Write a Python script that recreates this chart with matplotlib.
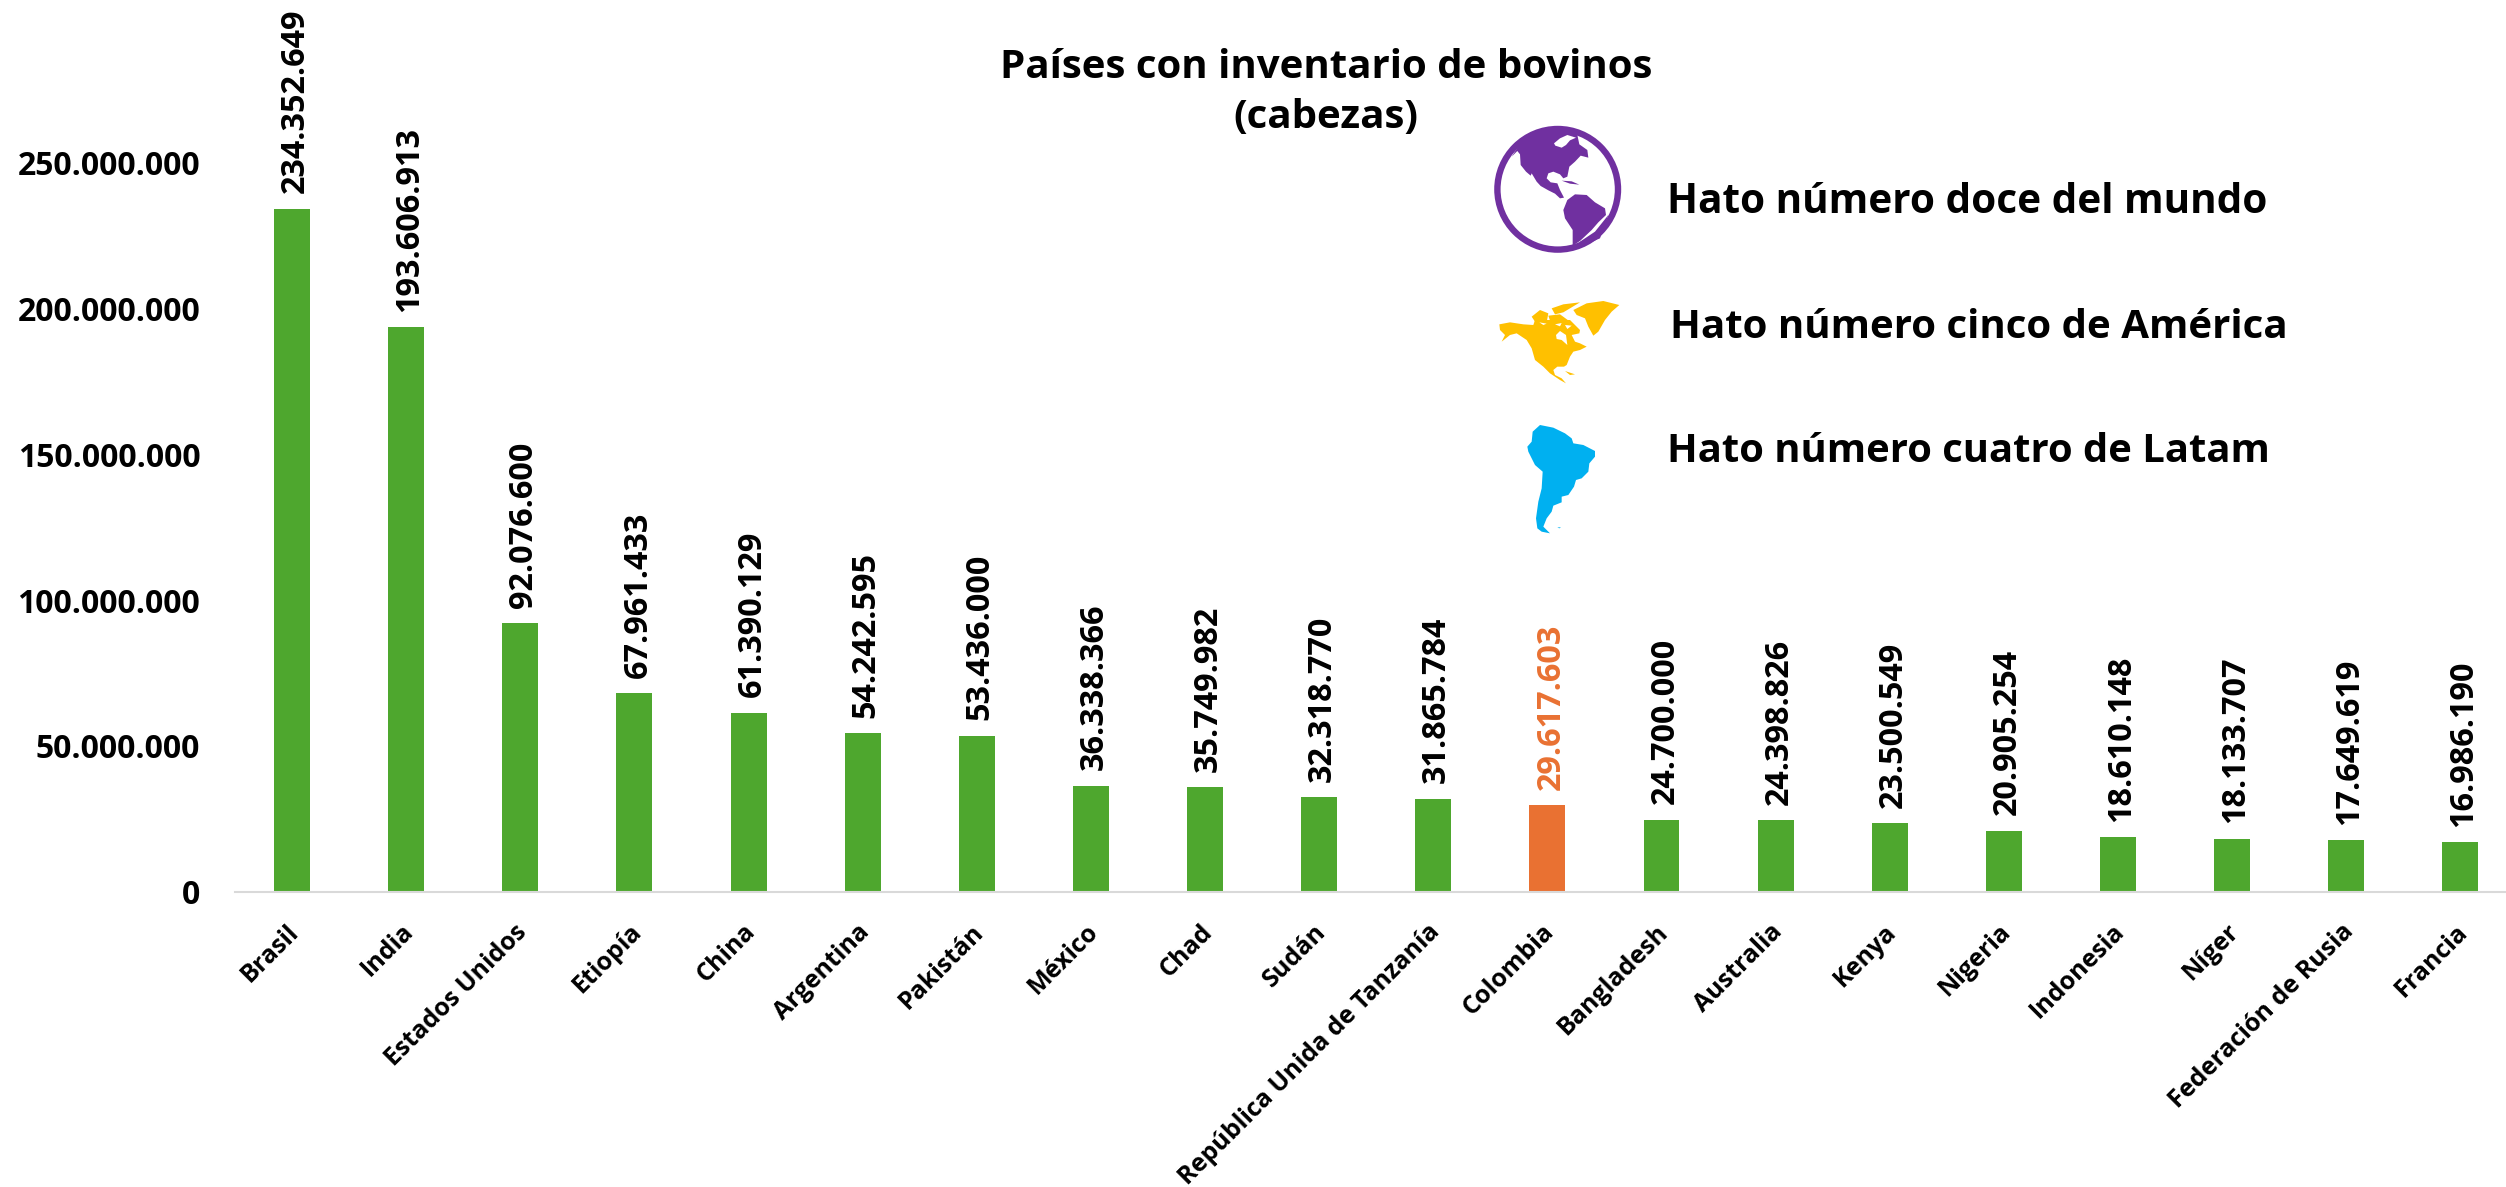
import matplotlib
matplotlib.use("Agg")
import matplotlib.pyplot as plt
from matplotlib.patches import Circle, Polygon
from matplotlib.transforms import ScaledTranslation

plt.rcParams['font.family'] = ['Open Sans', 'DejaVu Sans']
plt.rcParams['font.weight'] = 'bold'

paises = ["Brasil", "India", "Estados Unidos", "Etiopía", "China", "Argentina", "Pakistán",
          "México", "Chad", "Sudán", "República Unida de Tanzanía", "Colombia", "Bangladesh",
          "Australia", "Kenya", "Nigeria", "Indonesia", "Níger", "Federación de Rusia", "Francia"]
cabezas = [234352649, 193606913, 92076600, 67961433, 61390129, 54242595, 53436000,
           36338366, 35749982, 32318770, 31865784, 29617603, 24700000,
           24398826, 23500549, 20905254, 18610148, 18133707, 17649619, 16986190]
y_ticks = [0, 50000000, 100000000, 150000000, 200000000, 250000000]

VERDE = "#4EA72E"
NARANJA = "#E97132"
W, H = 2506, 1187


def miles(v):
    return f"{v:,}".replace(",", ".")


def zoom_pts(pts, x0, y0):
    # traced on 3x crops, back to image pixels
    return [(x0 + x / 3, y0 + y / 3) for x, y in pts]


def draw_icons(fig):
    ov = fig.add_axes([0, 0, 1, 1], zorder=3)
    ov.set_xlim(0, W)
    ov.set_ylim(H, 0)
    ov.axis("off")
    ov.patch.set_alpha(0)

    # globo
    morado = "#7030A0"
    x0, y0 = 1480, 115
    clip = Circle((1557.7, 189.3), 60, transform=ov.transData)
    ov.add_patch(Circle((1557.7, 189.3), 60.3, fc="white", ec=morado, lw=4.6))
    norte = [(95, 125), (112, 108), (120, 118), (122, 150), (138, 170), (152, 182), (155, 175), (170, 200),
             (182, 213), (205, 226), (225, 236), (240, 250), (252, 248), (240, 225), (232, 205), (212, 202),
             (200, 190), (205, 175), (220, 170), (240, 178), (250, 190), (262, 185), (268, 155), (285, 140),
             (302, 122), (325, 128), (322, 105), (298, 88), (290, 50), (233, 20), (150, 40)]
    p = Polygon(zoom_pts(norte, x0, y0), fc=morado, ec="none")
    ov.add_patch(p)
    p.set_clip_path(clip)
    ov.add_patch(Polygon(zoom_pts([(222, 85), (240, 70), (262, 60), (288, 68), (270, 76), (258, 90), (245, 98),
                                   (226, 92)], x0, y0), fc="white", ec="none"))
    sur = [(250, 285), (262, 255), (285, 238), (320, 240), (345, 262), (375, 280), (378, 300), (355, 322),
           (335, 345), (300, 378), (278, 392), (278, 345), (255, 310)]
    ov.add_patch(Polygon(zoom_pts(sur, x0, y0), fc=morado, ec="none"))
    ov.add_patch(Polygon(zoom_pts([(245, 197), (275, 199), (298, 209), (270, 206)], x0, y0), fc=morado, ec="none"))
    ov.add_patch(Polygon(zoom_pts([(300, 380), (345, 350), (385, 300), (360, 370), (310, 392)], x0, y0),
                         fc=morado, ec="none"))

    # norteamerica
    amarillo = "#FFC000"
    x0, y0 = 1480, 285
    tierra = [(58, 118), (90, 112), (130, 118), (160, 120), (165, 105), (215, 105), (270, 105),
              (300, 135), (298, 145), (275, 150), (285, 170), (300, 175), (320, 185), (300, 195),
              (280, 200), (270, 215), (260, 240), (252, 245), (232, 245), (220, 255), (225, 270), (245, 280),
              (258, 295), (240, 285), (210, 265), (190, 245), (165, 225), (155, 190), (140, 165), (110, 145),
              (90, 150), (65, 170), (75, 150), (60, 135)]
    groenlandia = [(280, 75), (320, 55), (370, 48), (418, 60), (395, 80), (375, 105), (355, 140), (340, 152),
                   (325, 125), (315, 100), (290, 90)]
    islas = [[(155, 95), (180, 75), (205, 85), (200, 112), (165, 110)],
             [(215, 70), (250, 58), (300, 52), (270, 70), (250, 82), (225, 88)],
             [(205, 92), (240, 88), (270, 110), (240, 113), (212, 113)]]
    for pts in [tierra, groenlandia] + islas:
        ov.add_patch(Polygon(zoom_pts(pts, x0, y0), fc=amarillo, ec="none"))
    huecos = [[(228, 150), (240, 138), (258, 150), (262, 180), (245, 165), (230, 162)],
              [(178, 112), (200, 116), (190, 120)],
              [(225, 118), (245, 114), (240, 124)],
              [(255, 120), (275, 122), (262, 132)]]
    for pts in huecos:
        ov.add_patch(Polygon(zoom_pts(pts, x0, y0), fc="white", ec="none"))
    ov.add_patch(Polygon(zoom_pts([(255, 258), (285, 268), (270, 270)], x0, y0), fc=amarillo, ec="none"))

    # sudamerica
    azul = "#00B0F0"
    x0, y0 = 1500, 415
    latam = [(98, 50), (120, 30), (160, 38), (195, 55), (215, 70), (220, 85), (250, 90), (285, 108), (285, 125),
             (268, 145), (265, 170), (245, 190), (228, 195), (222, 215), (205, 240), (185, 245), (185, 262),
             (160, 272), (155, 290), (140, 310), (130, 335), (150, 355), (125, 350), (112, 340), (108, 310),
             (115, 260), (125, 220), (128, 170), (105, 150), (85, 110), (82, 95), (95, 80)]
    ov.add_patch(Polygon(zoom_pts(latam, x0, y0), fc=azul, ec="none"))
    ov.add_patch(Polygon(zoom_pts([(172, 337), (183, 337), (178, 340)], x0, y0), fc=azul, ec="none"))


def main():
    fig = plt.figure(figsize=(W / 100, H / 100), dpi=100)
    ax = fig.add_axes([235 / W, (H - 891.5) / H, (W - 235) / W, 891.5 / H])

    colores = [NARANJA if p == "Colombia" else VERDE for p in paises]
    ax.bar(paises, cabezas, width=0.315, color=colores)

    ax.set_xlim(-0.5, 19.4)
    ax.set_ylim(0, 305.9e6)
    for lado in ["top", "right", "left"]:
        ax.spines[lado].set_visible(False)
    ax.spines["bottom"].set_color("#D9D9D9")
    ax.spines["bottom"].set_linewidth(1.5)

    ax.set_yticks(y_ticks)
    ax.set_yticklabels([miles(v) for v in y_ticks], fontsize=23)
    ax.tick_params(axis="y", length=0, pad=25)
    ax.tick_params(axis="x", length=0, pad=20)
    ax.set_xticks(range(len(paises)))
    ax.set_xticklabels(paises, fontsize=18, rotation=45, ha="right", rotation_mode="anchor")
    desplaza = ScaledTranslation(-4 / 72, 0, fig.dpi_scale_trans)
    for etiqueta in ax.get_xticklabels():
        etiqueta.set_transform(etiqueta.get_transform() + desplaza)

    for i, v in enumerate(cabezas):
        ax.annotate(miles(v), (i, v), xytext=(2.5, 11), textcoords="offset points", rotation=90,
                    ha="center", va="bottom", fontsize=23.3,
                    color=NARANJA if paises[i] == "Colombia" else "black")

    fig.text(1326 / W, 1 - 67 / H, "Países con inventario de bovinos", fontsize=29, ha="center", va="center")
    fig.text(1326 / W, 1 - 118 / H, "(cabezas)", fontsize=29, ha="center", va="center")
    fig.text(1667 / W, 1 - 203 / H, "Hato número doce del mundo", fontsize=29.2, va="center")
    fig.text(1670 / W, 1 - 327 / H, "Hato número cinco de América", fontsize=29, va="center")
    fig.text(1667 / W, 1 - 452 / H, "Hato número cuatro de Latam", fontsize=28.8, va="center")

    draw_icons(fig)

    plt.savefig("out.png", dpi=100)
    plt.close()


if __name__ == "__main__":
    main()
